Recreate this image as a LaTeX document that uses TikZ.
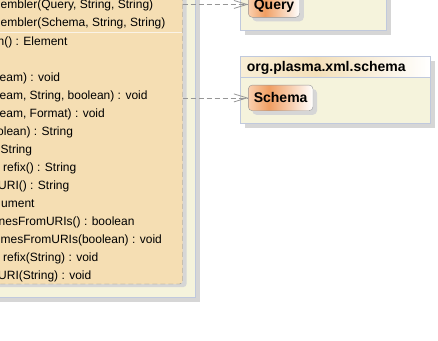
\documentclass[tikz,border=0pt]{standalone}
\usepackage{fontspec}
\setmainfont{Liberation Sans}
\usepackage{tikz}
\usetikzlibrary{arrows.meta,shadows,positioning}
\usepackage{xcolor}
\definecolor{pkgcream}{RGB}{245,243,220}
\definecolor{pkgborder}{RGB}{192,201,221}
\definecolor{pkgshadow}{RGB}{214,214,214}
\definecolor{classtan}{RGB}{245,222,179}
\definecolor{classline}{RGB}{140,140,140}
\definecolor{sepline}{RGB}{250,243,230}
\definecolor{depgray}{RGB}{150,150,150}
\definecolor{typeborder}{RGB}{150,150,150}
\definecolor{typepeach}{RGB}{250,208,175}
\definecolor{typeorange}{RGB}{240,158,98}
\definecolor{headlight}{RGB}{248,238,214}
\definecolor{headtan}{RGB}{244,224,186}
\pgfdeclarehorizontalshading{typeshade}{100bp}{color(0bp)=(typepeach); color(25bp)=(typepeach); color(41bp)=(typeorange); color(75bp)=(white); color(100bp)=(white)}
\pgfdeclarehorizontalshading{headshade}{100bp}{color(0bp)=(headlight); color(25bp)=(headlight); color(45bp)=(headtan); color(75bp)=(white); color(100bp)=(white)}
\tikzstyle{pkgbox} = [rectangle, draw=pkgborder, fill=pkgcream, inner sep=0pt, outer sep=0pt, drop shadow={shadow xshift=5pt, shadow yshift=-5pt, fill=pkgshadow, draw=none, opacity=1}]
\tikzstyle{pkghead} = [rectangle, draw=pkgborder, shading=headshade, inner sep=0pt, outer sep=0pt]
\tikzstyle{classbox} = [rectangle, rounded corners=3pt, draw=classline, dash pattern=on 5pt off 3pt, fill=classtan, inner sep=0pt, outer sep=0pt, drop shadow={shadow xshift=4pt, shadow yshift=-3pt, fill=pkgshadow, draw=none, opacity=1}]
\tikzstyle{typebox} = [rectangle, rounded corners=4pt, draw=typeborder, shading=typeshade, minimum height=25.7pt, inner xsep=5.5pt, inner ysep=0pt, outer sep=0pt, text height=10pt, text depth=0pt, font=\fontsize{14}{16}\selectfont\bfseries, drop shadow={shadow xshift=4pt, shadow yshift=-4pt, fill=pkgshadow, draw=none, opacity=1}]
\tikzstyle{member} = [anchor=base west, inner sep=0pt, font=\fontsize{12}{14}\selectfont]
\tikzstyle{dep} = [line width=0.8pt, depgray, dash pattern=on 5pt off 3pt, -{Straight Barb[length=13pt,width=8pt]}]

\begin{document}
\begin{tikzpicture}[x=1pt, y=-1pt]
\useasboundingbox (0,0) rectangle (438,340);
\clip (0,0) rectangle (438,340);

% Packages
\node[pkgbox, anchor=south east, minimum width=220pt, minimum height=320pt] (assemblerpkg) at (195,297) {};
\node[pkgbox, anchor=south west, minimum width=146pt, minimum height=50pt] (querypkg) at (240,30) {};
\node[pkgbox, anchor=north west, minimum width=190pt, minimum height=67.3pt] (schemapkg) at (240,56) {};
\node[pkghead, anchor=north west, minimum width=190pt, minimum height=20.7pt] (schemahead) at (240,56) {};
\node[anchor=base west, inner sep=0pt, font=\fontsize{14}{16}\selectfont\bfseries] (schemaname) at (246.7,71.7) {org.plasma.xml.schema};

% Assembler class
\node[classbox, anchor=south east, minimum width=200pt, minimum height=300pt] (assembler) at (182.5,284) {};
\draw[sepline, line width=0.8pt] (-20,32) -- (181.5,32);

% Members
\node[member] (ctorquery) at (0.5,9) {embler(Query, String, String)};
\node[member] (ctorschema) at (0.5,26.7) {embler(Schema, String, String)};
\node[member] (opa) at (-2.5,45.7) {n() : Element};
\node[member] (opb) at (-0.5,81.6) {eam) : void};
\node[member] (opc) at (-0.5,99.6) {eam, String, boolean) : void};
\node[member] (opd) at (-0.5,117.5) {eam, Format) : void};
\node[member] (ope) at (-3,135.5) {olean) : String};
\node[member] (opf) at (0.5,153.4) {String};
\node[member] (opg) at (3,171.4) {refix() : String};
\node[member] (oph) at (-2,189.3) {URI() : String};
\node[member] (opi) at (1,207.3) {ument};
\node[member] (opj) at (-1.5,225.2) {nesFromURIs() : boolean};
\node[member] (opk) at (0.5,243.2) {mesFromURIs(boolean) : void};
\node[member] (opl) at (3,261.1) {refix(String) : void};
\node[member] (opm) at (-2,279.1) {URI(String) : void};

% Types
\node[typebox, anchor=west] (query) at (248.3,4.45) {Query};
\node[typebox, anchor=west] (schema) at (248.3,97.9) {Schema};

% Dependencies
\draw[dep] (query.west -| assembler.east) -- (query.west);
\draw[dep] (schema.west -| assembler.east) -- (schema.west);
\end{tikzpicture}
\end{document}
